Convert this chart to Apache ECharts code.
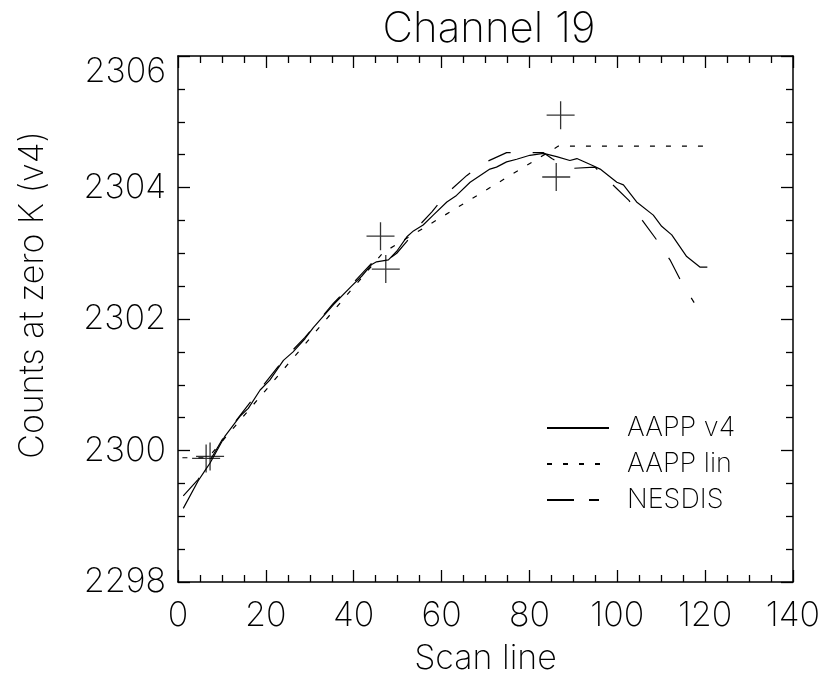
<!DOCTYPE html>
<html><head><meta charset="utf-8">
<script src="https://cdn.jsdelivr.net/npm/echarts@6/dist/echarts.min.js"></script>
<style>html,body{margin:0;padding:0;background:#fff}#c{width:828px;height:681px}</style>
</head><body><div id="c"></div>
<script>
const chartTitle = 'Channel 19';
const xName = 'Scan line';
const yName = 'Counts at zero K (v4)';
const seriesNames = ['AAPP v4', 'AAPP lin', 'NESDIS'];
const xTicks = [0, 20, 40, 60, 80, 100, 120, 140];
const yTicks = [2298, 2300, 2302, 2304, 2306];

const v4X = [1.2, 4.6, 6.4, 7.3, 10.7, 14.1, 16.0, 18.7, 20.9, 24.0, 26.2, 28.9, 30.8, 35.4, 39.5, 41.8, 44.1, 45.2, 47.9, 49.8, 52.1, 53.6, 55.8, 58.1, 61.2, 63.4, 66.5, 71.0, 72.5, 74.8, 77.1, 80.1, 83.2, 86.2, 89.2, 90.8, 94.5, 96.1, 99.9, 101.4, 104.4, 108.2, 110.1, 112.4, 115.8, 118.8, 120.5];
const v4Y = [2299.12, 2299.54, 2299.72, 2299.81, 2300.22, 2300.52, 2300.64, 2300.92, 2301.07, 2301.37, 2301.50, 2301.70, 2301.87, 2302.22, 2302.50, 2302.65, 2302.83, 2302.87, 2302.90, 2303.03, 2303.25, 2303.34, 2303.43, 2303.58, 2303.78, 2303.88, 2304.08, 2304.28, 2304.31, 2304.39, 2304.43, 2304.49, 2304.52, 2304.47, 2304.41, 2304.44, 2304.33, 2304.28, 2304.08, 2304.04, 2303.78, 2303.58, 2303.41, 2303.28, 2302.95, 2302.79, 2302.79];

const linX = [1.0, 6.85, 46.7, 86.6, 120.5];
const linY = [2299.89, 2299.89, 2303.01, 2304.63, 2304.63];

const nesX = [1.2, 4.6, 7.3, 10.7, 14.1, 18.7, 24.0, 28.9, 35.4, 39.5, 44.1, 46.5, 49.8, 52.1, 53.6, 57.8, 61.2, 65.7, 69.5, 74.8, 79.7, 83.2, 85.1, 89.4, 94.9, 98.7, 102.7, 105.7, 109.0, 112.0, 114.7, 117.5];
const nesY = [2299.31, 2299.56, 2299.85, 2300.24, 2300.53, 2300.93, 2301.38, 2301.72, 2302.24, 2302.52, 2302.85, 2302.84, 2303.00, 2303.18, 2303.33, 2303.63, 2303.91, 2304.18, 2304.37, 2304.53, 2304.53, 2304.53, 2304.44, 2304.29, 2304.31, 2304.06, 2303.80, 2303.50, 2303.20, 2302.90, 2302.55, 2302.25];

const crossX = [6.4, 7.3, 46.1, 47.3, 87.1, 86.1];
const crossY = [2299.88, 2299.91, 2303.26, 2302.76, 2305.10, 2304.16];

const FONT = "Inter, 'DejaVu Sans', sans-serif";
const FW = 200;
const zip = (xs, ys) => xs.map((x, i) => [x, ys[i]]);

const lineSt = { color: '#000', width: 1.5 };
const tickSt = { color: '#000', width: 1.3 };
function boxAxis(extra) {
  return Object.assign({
    type: 'value',
    axisLine: { show: true, onZero: false, lineStyle: lineSt },
    axisTick: { show: true, inside: true, length: 12, lineStyle: tickSt },
    minorTick: { show: true, splitNumber: 4, length: 7, lineStyle: tickSt },
    splitLine: { show: false },
    minorSplitLine: { show: false }
  }, extra);
}
const xRange = { min: xTicks[0], max: xTicks[xTicks.length - 1], interval: xTicks[1] - xTicks[0] };
const yRange = { min: yTicks[0], max: yTicks[yTicks.length - 1], interval: yTicks[1] - yTicks[0] };
const labelSt = { fontSize: 34, fontFamily: FONT, fontWeight: FW, color: '#000' };

const chart = echarts.init(document.getElementById('c'), null, { renderer: 'canvas' });
chart.setOption({
  backgroundColor: '#fff',
  animation: false,
  title: {
    text: chartTitle, left: 484, top: 3, textAlign: 'center',
    textStyle: { fontSize: 42, fontFamily: FONT, fontWeight: FW, color: '#000' }
  },
  grid: { left: 178, right: 35, top: 56, bottom: 94, containLabel: false },
  legend: {
    data: [
      { name: seriesNames[0] },
      { name: seriesNames[1] },
      { name: seriesNames[2], lineStyle: { type: [27, 15, 10, 40] } }
    ],
    orient: 'vertical', left: 546, top: 410, padding: 0,
    itemWidth: 62, itemHeight: 14, itemGap: 0, selectedMode: false,
    itemStyle: { color: 'transparent', borderColor: 'transparent', borderWidth: 0, opacity: 0 },
    textStyle: { fontSize: 27, fontFamily: FONT, fontWeight: FW, color: '#000', lineHeight: 22, padding: [0, 0, 14, 13] }
  },
  xAxis: [
    boxAxis(Object.assign({
      position: 'bottom', name: xName, nameLocation: 'middle', nameGap: 60,
      nameTextStyle: labelSt,
      axisLabel: Object.assign({ margin: 17 }, labelSt)
    }, xRange)),
    boxAxis(Object.assign({ position: 'top', axisLabel: { show: false } }, xRange))
  ],
  yAxis: [
    boxAxis(Object.assign({
      position: 'left', name: yName, nameLocation: 'middle', nameRotate: 90, nameGap: 128,
      nameTextStyle: Object.assign({ padding: [0, 0, 0, 48] }, labelSt),
      axisLabel: Object.assign({
        margin: 12,
        formatter: v => (v === yTicks[yTicks.length - 1] ? '{t|' + v + '}' : String(v)),
        rich: { t: Object.assign({ padding: [32, 0, 0, 0] }, labelSt) }
      }, labelSt)
    }, yRange)),
    boxAxis(Object.assign({ position: 'right', axisLabel: { show: false } }, yRange))
  ],
  series: [
    { name: seriesNames[0], type: 'line', data: zip(v4X, v4Y), symbol: 'none', showSymbol: false,
      lineStyle: { color: '#000', width: 1.2, type: 'solid' }, itemStyle: { color: '#000' } },
    { name: seriesNames[1], type: 'line', data: zip(linX, linY), symbol: 'none', showSymbol: false,
      lineStyle: { color: '#000', width: 1.2, type: [5, 11] }, itemStyle: { color: '#000' } },
    { name: seriesNames[2], type: 'line', data: zip(nesX, nesY), symbol: 'none', showSymbol: false,
      lineStyle: { color: '#000', width: 1.2, type: [24, 22] }, itemStyle: { color: '#000' } },
    { name: 'calibration', type: 'scatter', data: zip(crossX, crossY),
      symbol: 'path://M10,0L10,20M0,10L20,10', symbolSize: 28,
      itemStyle: { color: 'transparent', borderColor: '#000', borderWidth: 1.3 } }
  ]
});
</script></body></html>
